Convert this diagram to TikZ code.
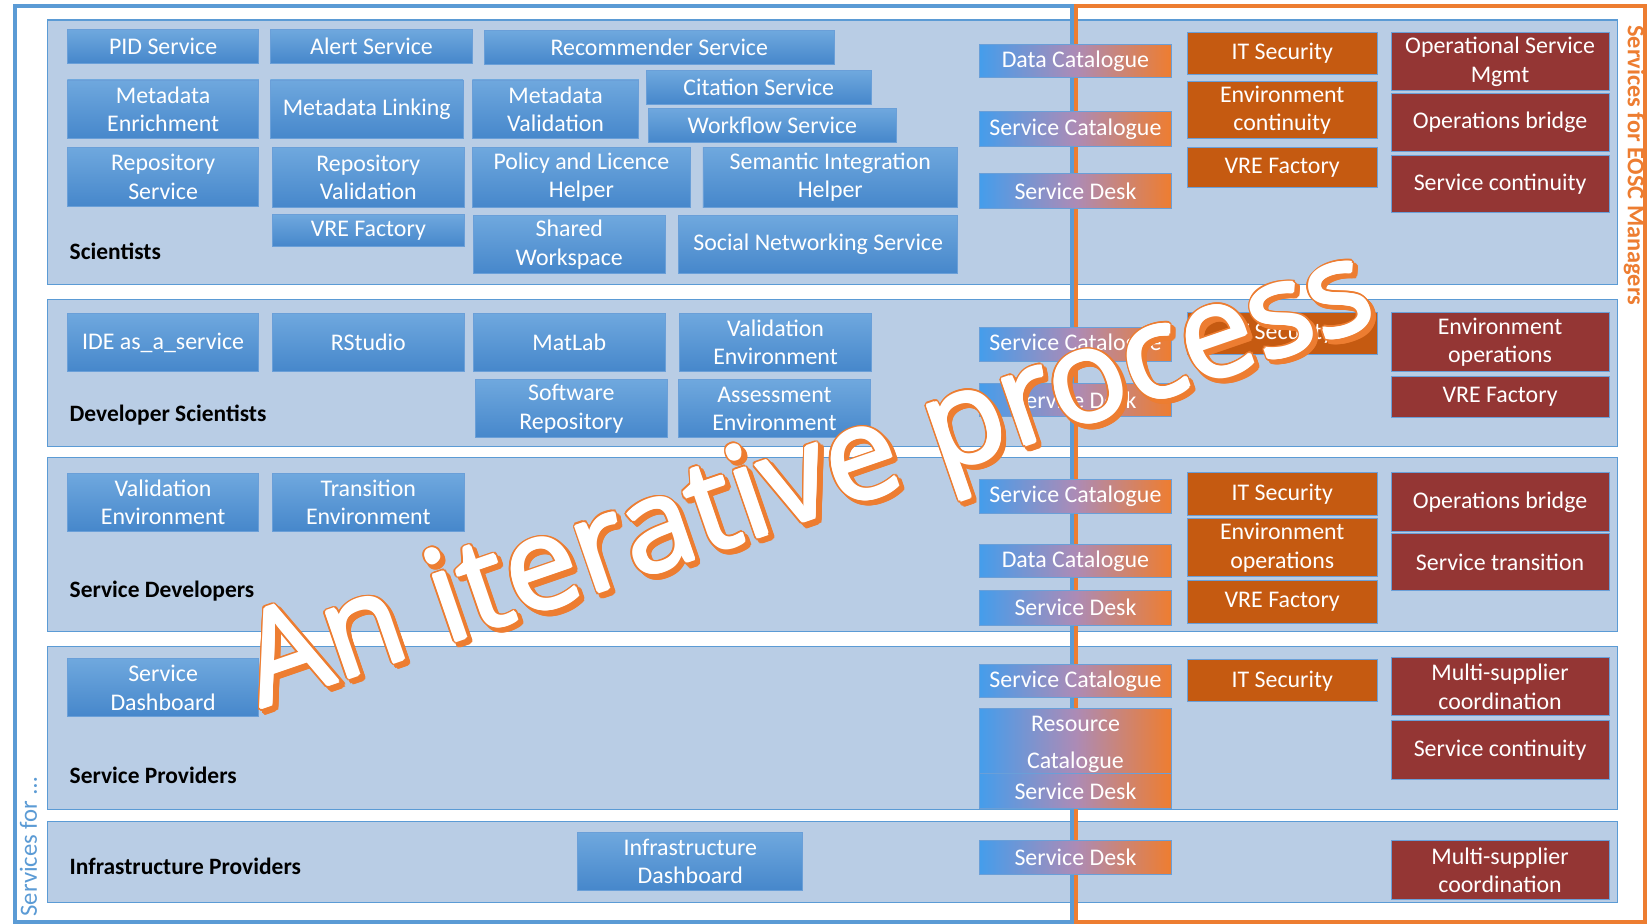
\documentclass[tikz,border=0pt]{standalone}
\usepackage{fontspec}
\setmainfont{Carlito}
\newfontfamily\bigfont{Open Sans}
\definecolor{laneF}{HTML}{B9CDE5}
\definecolor{laneD}{HTML}{5B9BD5}
\definecolor{btop}{HTML}{6FA8DE}
\definecolor{bbot}{HTML}{4687CB}
\definecolor{bbord}{HTML}{6A9FD8}
\definecolor{gleft}{HTML}{459DEB}
\definecolor{gmid}{HTML}{AC8BB6}
\definecolor{gright}{HTML}{EE7D30}
\definecolor{orng}{HTML}{C55A11}
\definecolor{dred}{HTML}{943634}
\definecolor{eor}{HTML}{ED7D31}
\definecolor{eblue}{HTML}{5B9BD5}
\newcommand\bx[7]{\node[#1, minimum width={(#5-#3)*1pt}, minimum height={(#6-#4)*1pt}] (#2) at ({(#3+#5)/2},{(#4+#6)/2}) {#7};}
\tikzset{
  boxbase/.style={rectangle, inner sep=0pt, outer sep=0pt, align=center, text=white, draw=bbord, line width=0.8pt, font=\fontsize{22.7}{27}\selectfont},
  bbox/.style={boxbase, top color=btop, bottom color=bbot},
  gbox/.style={boxbase, left color=gleft, right color=gright, middle color=gmid},
  obox/.style={boxbase, fill=orng},
  rbox/.style={boxbase, fill=dred},
  lane/.style={rectangle, inner sep=0pt, outer sep=0pt, fill=laneF, draw=laneD, line width=1pt},
  lanelabel/.style={anchor=base west, inner sep=0pt, font=\bfseries\fontsize{22.3}{26}\selectfont, text=black},
  bigtxt/.style={rotate=19, anchor=base, inner sep=0pt, font=\bigfont\fontsize{123}{123}\selectfont},
}
\begin{document}
\begin{tikzpicture}[x=1pt, y=-1pt]
\fill[white] (0,0) rectangle (1568,878);
\useasboundingbox (0,0) rectangle (1568,878);
% lanes
\bx{lane}{L1}{45}{19}{1537}{270}{}
\bx{lane}{L2}{45}{285}{1537}{424}{}
\bx{lane}{L3}{45}{435}{1537}{600}{}
\bx{lane}{L4}{45}{614}{1537}{769}{}
\bx{lane}{L5}{45}{781}{1537}{858}{}
% frames
\draw[eblue, line width=3.5pt] (14,6) rectangle (1019,876);
\draw[eor, line width=3.5pt] (1022.5,6) rectangle (1563,876);
% lane labels
\node[lanelabel] (lab1) at (66,247) {Scientists};
\node[lanelabel] (lab2) at (66,401) {Developer Scientists};
\node[lanelabel] (lab3) at (66,568) {Service Developers};
\node[lanelabel] (lab4) at (66,745) {Service Providers};
\node[lanelabel] (lab5) at (66,831) {Infrastructure Providers};
% side texts
\node[rotate=-90, text=eor, font=\bfseries\fontsize{23.1}{27}\selectfont, inner sep=0pt] (eoscm) at (1553,157) {Services for EOSC Managers};
\node[rotate=90, text=eblue, font=\fontsize{23.5}{27}\selectfont, inner sep=0pt] (svcfor) at (27,805) {Services for \dots};
% blue boxes: Scientists
\bx{bbox}{pid}{64}{28}{246}{60}{PID Service}
\bx{bbox}{alert}{257}{28}{449}{60}{Alert Service}
\bx{bbox}{recom}{460}{29}{793}{61}{Recommender Service}
\bx{bbox}{menr}{64}{76}{246}{132}{Metadata\\Enrichment}
\bx{bbox}{mlink}{257}{76}{440}{132}{Metadata Linking}
\bx{bbox}{mval}{449}{76}{607}{132}{Metadata\\Validation}
\bx{bbox}{cit}{614}{67}{828}{99}{Citation Service}
\bx{bbox}{wf}{616}{103}{852}{135}{Workflow Service}
\bx{bbox}{repo}{64}{140}{246}{196}{Repository\\Service}
\bx{bbox}{repval}{259}{140}{441}{197}{Repository\\Validation}
\bx{bbox}{policy}{449}{140}{656}{197}{Policy and Licence\\Helper}
\bx{bbox}{sem}{668}{140}{910}{197}{Semantic Integration\\Helper}
\bx{bbox}{vreA}{259}{204}{441}{234}{VRE Factory}
\bx{bbox}{shared}{450}{205}{632}{260}{Shared\\Workspace}
\bx{bbox}{social}{645}{205}{910}{260}{Social Networking Service}
% Developer Scientists
\bx{bbox}{ide}{64}{298}{246}{353}{IDE as\_a\_service}
\bx{bbox}{rstudio}{259}{298}{441}{353}{RStudio}
\bx{bbox}{matlab}{450}{298}{632}{353}{MatLab}
\bx{bbox}{valenvA}{646}{298}{828}{353}{Validation\\Environment}
\bx{bbox}{softrepo}{452}{361}{634}{416}{Software\\Repository}
\bx{bbox}{assess}{645}{361}{827}{416}{Assessment\\Environment}
% Service Developers
\bx{bbox}{valenvB}{64}{450}{246}{505}{Validation\\Environment}
\bx{bbox}{transenv}{259}{450}{441}{505}{Transition\\Environment}
% Service Providers
\bx{bbox}{sdash}{64}{626}{246}{681}{Service\\Dashboard}
% Infrastructure Providers
\bx{bbox}{idash}{549}{791}{763}{846}{Infrastructure\\Dashboard}
% gradient boxes
\bx{gbox}{dcA}{931}{42}{1113}{74}{Data Catalogue}
\bx{gbox}{scA}{931}{106}{1113}{139}{Service Catalogue}
\bx{gbox}{sdkA}{931}{165}{1113}{198}{Service Desk}
\bx{gbox}{scB}{931}{311}{1113}{343}{Service Catalogue}
\bx{gbox}{sdkB}{931}{364}{1113}{396}{Service Desk}
\bx{gbox}{scC}{931}{456}{1113}{488}{Service Catalogue}
\bx{gbox}{dcC}{931}{517}{1113}{549}{Data Catalogue}
\bx{gbox}{sdkC}{931}{561}{1113}{594}{Service Desk}
\bx{gbox}{scD}{931}{631}{1113}{663}{Service Catalogue}
\bx{gbox, font=\fontsize{22.7}{35}\selectfont}{rcD}{931}{673}{1113}{741}{Resource\\Catalogue}
\bx{gbox}{sdkD}{931}{735}{1113}{768}{Service Desk}
\bx{gbox}{sdkE}{931}{799}{1113}{831}{Service Desk}
% orange boxes
\bx{obox}{itsA}{1128}{31}{1309}{71}{IT Security}
\bx{obox}{envcA}{1128}{77}{1309}{132}{Environment\\continuity}
\bx{obox}{vreoA}{1128}{140}{1309}{178}{VRE Factory}
\bx{obox}{itsB}{1128}{297}{1309}{337}{IT Security}
\bx{obox}{itsC}{1128}{449}{1309}{490}{IT Security}
\bx{obox}{envoC}{1128}{493}{1309}{548}{Environment\\operations}
\bx{obox}{vreoC}{1128}{552}{1309}{592}{VRE Factory}
\bx{obox}{itsD}{1128}{627}{1309}{667}{IT Security}
% dark red boxes
\bx{rbox}{osm}{1322}{31}{1529}{86}{Operational Service\\Mgmt}
\bx{rbox}{opbA}{1322}{89}{1529}{144}{Operations bridge}
\bx{rbox}{scontA}{1322}{148}{1529}{202}{Service continuity}
\bx{rbox}{envopB}{1322}{297}{1529}{353}{Environment\\operations}
\bx{rbox}{vrerB}{1322}{358}{1529}{397}{VRE Factory}
\bx{rbox}{opbC}{1322}{449}{1529}{505}{Operations bridge}
\bx{rbox}{stransC}{1322}{507}{1529}{561}{Service transition}
\bx{rbox}{mscD}{1322}{625}{1529}{680}{Multi-supplier\\coordination}
\bx{rbox}{scontD}{1322}{685}{1529}{741}{Service continuity}
\bx{rbox}{mscE}{1322}{799}{1529}{855}{Multi-supplier\\coordination}
% big overlay text: shadow, outline, thickened white fill
\foreach \a in {0,20,...,340} {
  \node[bigtxt, text=eor] at ([shift={(\a:3pt)}]783.5,493.5) {An iterative process};
}
\foreach \a in {0,20,...,340} {
  \node[bigtxt, text=eor] at ([shift={(\a:3pt)}]780,490) {An iterative process};
}
\foreach \a in {0,45,...,315} {
  \node[bigtxt, text=white] at ([shift={(\a:1.5pt)}]780,490) {An iterative process};
}
\node[bigtxt, text=white] (bigtitle) at (780,490) {An iterative process};
\end{tikzpicture}
\end{document}
